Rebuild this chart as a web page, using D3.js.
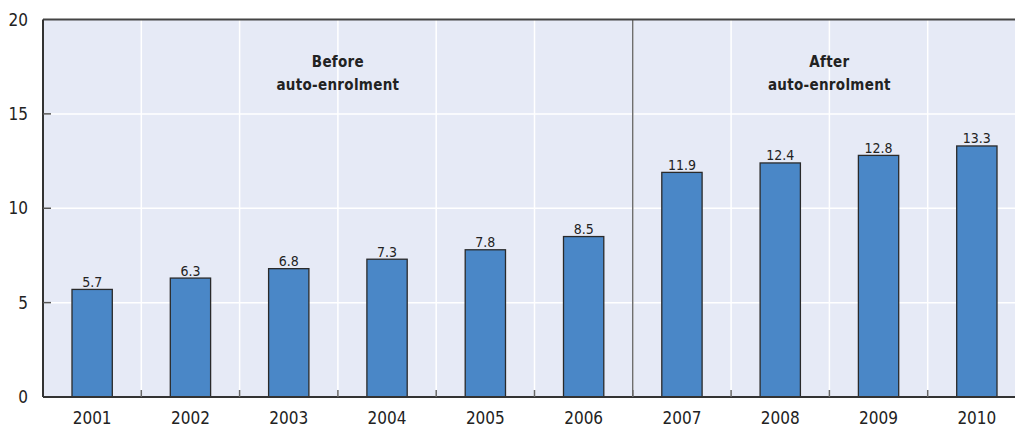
<!DOCTYPE html>
<html>
<head>
<meta charset="utf-8">
<script src="https://cdn.jsdelivr.net/npm/d3@7"></script>
<style>
  body { margin: 0; background: #fff; }
  svg { display: block; font-family: "Liberation Sans Narrow", "DejaVu Sans Condensed", "Arial Narrow", sans-serif; }
</style>
</head>
<body>
<svg id="chart"></svg>
<script>
// data
const years = ["2001", "2002", "2003", "2004", "2005", "2006", "2007", "2008", "2009", "2010"];
const values = [5.7, 6.3, 6.8, 7.3, 7.8, 8.5, 11.9, 12.4, 12.8, 13.3];
const yTicks = [0, 5, 10, 15, 20];
const periodLabels = [["Before", "auto-enrolment"], ["After", "auto-enrolment"]];
const periodCentre = ["2003", "2008"]; // label sits on the right edge of this band
const splitYear = "2006";

const width = 1015, height = 428;
const plotLeft = 43, plotTop = 19.5, plotBottom = 397;
const plotRight = 1026; // plot runs past the window edge in the original

const svg = d3.select("#chart").attr("width", width).attr("height", height);

const x = d3.scaleBand().domain(years).range([plotLeft, plotRight]).paddingInner(0).paddingOuter(0);
const y = d3.scaleLinear().domain([0, 20]).range([plotBottom, plotTop]);
const barW = x.bandwidth() * 0.41;

// background
svg.append("rect")
    .attr("x", plotLeft).attr("y", plotTop)
    .attr("width", plotRight - plotLeft).attr("height", plotBottom - plotTop)
    .attr("fill", "#e6eaf6");

// horizontal grid
svg.append("g").selectAll("line")
    .data(yTicks.slice(1, -1))
    .enter().append("line")
    .attr("x1", plotLeft).attr("x2", plotRight)
    .attr("y1", d => y(d)).attr("y2", d => y(d))
    .attr("stroke", "#fff").attr("stroke-width", 1.5);

// vertical grid at band edges
svg.append("g").selectAll("line")
    .data(years.slice(1))
    .enter().append("line")
    .attr("x1", d => x(d)).attr("x2", d => x(d))
    .attr("y1", plotTop).attr("y2", plotBottom)
    .attr("stroke", "#fff").attr("stroke-width", 1.5);

// before / after divider
const splitX = x(splitYear) + x.bandwidth();
svg.append("line")
    .attr("x1", splitX).attr("x2", splitX)
    .attr("y1", plotTop).attr("y2", plotBottom)
    .attr("stroke", "#333").attr("stroke-width", 1);

// bars
svg.append("g").selectAll("rect")
    .data(values)
    .enter().append("rect")
    .attr("x", (d, i) => x(years[i]) + (x.bandwidth() - barW) / 2)
    .attr("y", d => y(d))
    .attr("width", barW)
    .attr("height", d => y(0) - y(d))
    .attr("fill", "#4a87c7")
    .attr("stroke", "#2a2a2a")
    .attr("stroke-width", 1.3);

// value labels
svg.append("g").selectAll("text")
    .data(values)
    .enter().append("text")
    .attr("x", (d, i) => x(years[i]) + x.bandwidth() / 2)
    .attr("y", d => y(d) - 2.5)
    .attr("text-anchor", "middle")
    .attr("font-size", "14px")
    .attr("fill", "#222")
    .text(d => d.toFixed(1));

// period labels
periodLabels.forEach((lines, i) => {
    const cx = x(periodCentre[i]) + x.bandwidth();
    const t = svg.append("text")
        .attr("text-anchor", "middle")
        .attr("font-size", "15px")
        .attr("font-weight", "bold")
        .attr("letter-spacing", "0.3px")
        .attr("fill", "#222");
    lines.forEach((s, j) => {
        t.append("tspan").attr("x", cx).attr("y", 67 + j * 23).text(s);
    });
});

// axes frame
svg.append("line")
    .attr("x1", plotLeft).attr("x2", plotRight)
    .attr("y1", plotTop).attr("y2", plotTop)
    .attr("stroke", "#444").attr("stroke-width", 2);
svg.append("line")
    .attr("x1", plotLeft).attr("x2", plotLeft)
    .attr("y1", plotTop).attr("y2", plotBottom)
    .attr("stroke", "#333").attr("stroke-width", 2);

// y ticks + labels
const yAxis = svg.append("g");
yAxis.selectAll("line")
    .data(yTicks.slice(1, -1))
    .enter().append("line")
    .attr("x1", plotLeft).attr("x2", plotLeft + 8)
    .attr("y1", d => y(d)).attr("y2", d => y(d))
    .attr("stroke", "#555").attr("stroke-width", 1.5);
yAxis.selectAll("text")
    .data(yTicks)
    .enter().append("text")
    .attr("x", 28)
    .attr("y", d => y(d))
    .attr("dy", "0.36em")
    .attr("text-anchor", "end")
    .attr("font-size", "17px")
    .attr("fill", "#222")
    .text(d => d);

// x axis
svg.append("line")
    .attr("x1", plotLeft).attr("x2", plotRight)
    .attr("y1", plotBottom).attr("y2", plotBottom)
    .attr("stroke", "#333").attr("stroke-width", 2);
svg.append("g").selectAll("line")
    .data(years.slice(1))
    .enter().append("line")
    .attr("x1", d => x(d)).attr("x2", d => x(d))
    .attr("y1", plotBottom - 7).attr("y2", plotBottom)
    .attr("stroke", "#666").attr("stroke-width", 1.5);
svg.append("g").selectAll("text")
    .data(years)
    .enter().append("text")
    .attr("x", d => x(d) + x.bandwidth() / 2)
    .attr("y", 424)
    .attr("text-anchor", "middle")
    .attr("font-size", "17px")
    .attr("fill", "#222")
    .text(d => d);
</script>
</body>
</html>
